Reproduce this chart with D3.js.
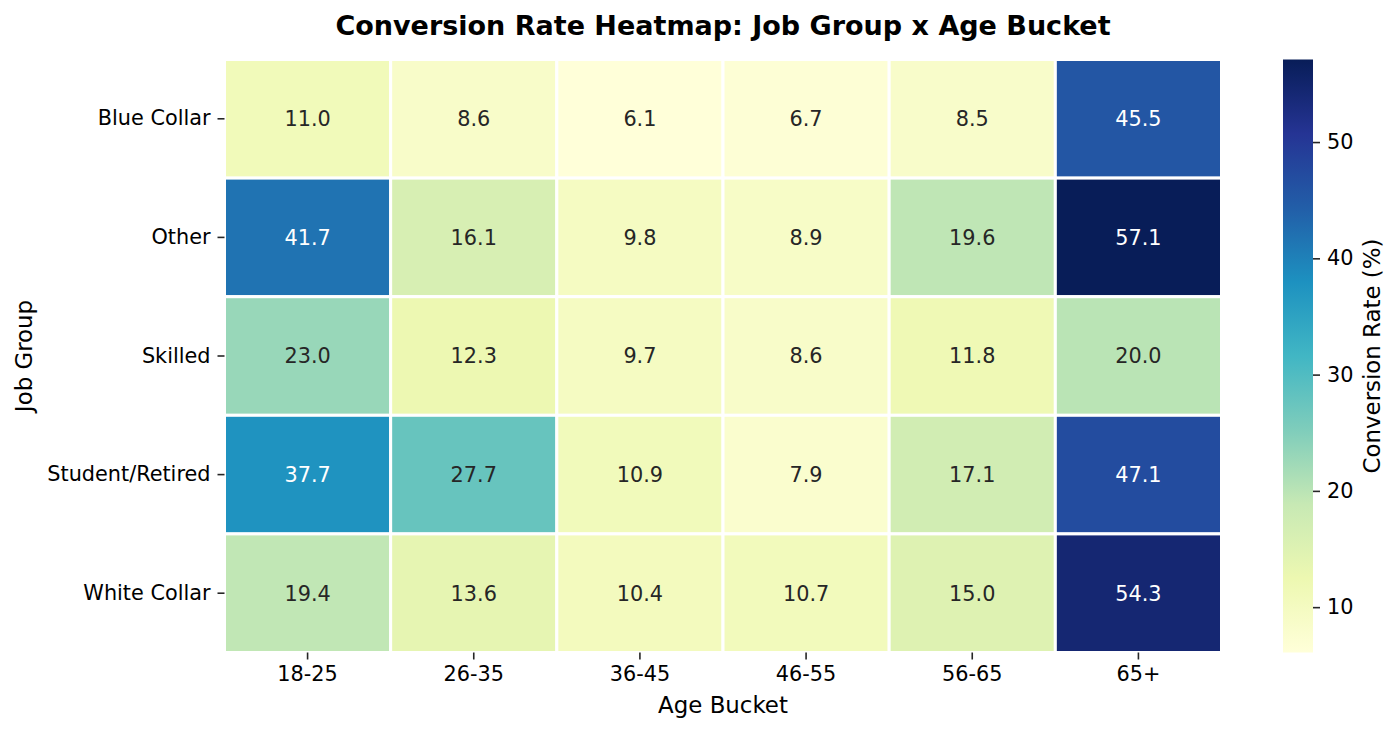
<!DOCTYPE html>
<html>
<head>
<meta charset="utf-8">
<script src="https://cdn.jsdelivr.net/npm/d3@7"></script>
<style>
  body { margin: 0; background: white; }
  svg { display: block; font-family: "DejaVu Sans", sans-serif; }
</style>
</head>
<body>
<svg></svg>
<script>
var jobGroups = ["Blue Collar", "Other", "Skilled", "Student/Retired", "White Collar"];
var ageBuckets = ["18-25", "26-35", "36-45", "46-55", "56-65", "65+"];

// one row per job group, one value per age bucket
var blueCollar    = [11.0,  8.6,  6.1,  6.7,  8.5, 45.5];
var other         = [41.7, 16.1,  9.8,  8.9, 19.6, 57.1];
var skilled       = [23.0, 12.3,  9.7,  8.6, 11.8, 20.0];
var studentRetired= [37.7, 27.7, 10.9,  7.9, 17.1, 47.1];
var whiteCollar   = [19.4, 13.6, 10.4, 10.7, 15.0, 54.3];
var rates = [blueCollar, other, skilled, studentRetired, whiteCollar];

var colorbarTicks = [10, 20, 30, 40, 50];

// YlGnBu (colorbrewer 9)
var ylGnBu = ["#ffffd9","#edf8b1","#c7e9b4","#7fcdbb","#41b6c4","#1d91c0","#225ea8","#253494","#081d58"];

var svgWidth = 1400, svgHeight = 734;
var plotLeft = 224.5, plotRight = 1221.5, plotTop = 59.5, plotBottom = 652.5;

var svg = d3.select("svg")
    .attr("width", svgWidth)
    .attr("height", svgHeight);

var cells = [];
rates.forEach(function(row, i) {
  row.forEach(function(v, j) {
    cells.push({job: jobGroups[i], age: ageBuckets[j], value: v});
  });
});

var vmin = d3.min(cells, d => d.value), vmax = d3.max(cells, d => d.value);

var color = d3.scaleLinear()
    .domain(ylGnBu.map((c, i) => vmin + (vmax - vmin) * i / (ylGnBu.length - 1)))
    .range(ylGnBu)
    .interpolate(d3.interpolateRgb)
    .clamp(true);

var xScale = d3.scaleBand().domain(ageBuckets).range([plotLeft, plotRight]);
var yScale = d3.scaleBand().domain(jobGroups).range([plotTop, plotBottom]);

function luminance(c) {
  var rgb = d3.rgb(c);
  var ch = [rgb.r, rgb.g, rgb.b].map(function(x) {
    x = x / 255;
    return x <= 0.03928 ? x / 12.92 : Math.pow((x + 0.055) / 1.055, 2.4);
  });
  return 0.2126 * ch[0] + 0.7152 * ch[1] + 0.0722 * ch[2];
}

// cells
svg.append("g").selectAll("rect")
  .data(cells)
  .join("rect")
    .attr("x", d => xScale(d.age))
    .attr("y", d => yScale(d.job))
    .attr("width", xScale.bandwidth())
    .attr("height", yScale.bandwidth())
    .attr("fill", d => color(d.value))
    .attr("stroke", "white")
    .attr("stroke-width", 3);

// annotations
svg.append("g").selectAll("text")
  .data(cells)
  .join("text")
    .attr("x", d => xScale(d.age) + xScale.bandwidth() / 2)
    .attr("y", d => yScale(d.job) + yScale.bandwidth() / 2)
    .attr("dy", "0.36em")
    .attr("text-anchor", "middle")
    .attr("font-size", "20.8px")
    .attr("fill", d => luminance(color(d.value)) > 0.408 ? "#262626" : "white")
    .text(d => d.value.toFixed(1));

// axes
var xAxis = svg.append("g")
    .attr("transform", "translate(0," + plotBottom + ")")
    .call(d3.axisBottom(xScale).tickSize(7).tickPadding(7));
var yAxis = svg.append("g")
    .attr("transform", "translate(" + plotLeft + ",0)")
    .call(d3.axisLeft(yScale).tickSize(7).tickPadding(7));

[xAxis, yAxis].forEach(function(a) {
  a.select(".domain").remove();
  a.selectAll(".tick line").attr("stroke", "#262626").attr("stroke-width", 1.6);
  a.selectAll(".tick text")
    .attr("font-size", "20.8px")
    .attr("font-family", "DejaVu Sans")
    .attr("fill", "#000");
});

// axis labels
svg.append("text")
    .attr("x", (plotLeft + plotRight) / 2)
    .attr("y", 713)
    .attr("text-anchor", "middle")
    .attr("font-size", "22.9px")
    .text("Age Bucket");

svg.append("text")
    .attr("transform", "translate(32," + (plotTop + plotBottom) / 2 + ") rotate(-90)")
    .attr("text-anchor", "middle")
    .attr("font-size", "22.9px")
    .text("Job Group");

// title
svg.append("text")
    .attr("x", (plotLeft + plotRight) / 2)
    .attr("y", 35)
    .attr("text-anchor", "middle")
    .attr("font-size", "27px")
    .attr("font-weight", "bold")
    .text("Conversion Rate Heatmap: Job Group x Age Bucket");

// colorbar
var cbX = 1283, cbW = 30;
var cbScale = d3.scaleLinear().domain([vmin, vmax]).range([plotBottom, plotTop]);

var grad = svg.append("defs").append("linearGradient")
    .attr("id", "cbgrad")
    .attr("x1", 0).attr("y1", 1).attr("x2", 0).attr("y2", 0);
grad.selectAll("stop")
  .data(ylGnBu)
  .join("stop")
    .attr("offset", (d, i) => i / (ylGnBu.length - 1))
    .attr("stop-color", d => d);

svg.append("rect")
    .attr("x", cbX)
    .attr("y", plotTop)
    .attr("width", cbW)
    .attr("height", plotBottom - plotTop)
    .attr("fill", "url(#cbgrad)");

var cbAxis = svg.append("g")
    .attr("transform", "translate(" + (cbX + cbW) + ",0)")
    .call(d3.axisRight(cbScale).tickValues(colorbarTicks).tickSize(7).tickPadding(7));
cbAxis.select(".domain").remove();
cbAxis.selectAll(".tick line").attr("stroke", "#262626").attr("stroke-width", 1.6);
cbAxis.selectAll(".tick text")
    .attr("font-size", "20.8px")
    .attr("font-family", "DejaVu Sans")
    .attr("fill", "#000");

svg.append("text")
    .attr("transform", "translate(1380," + (plotTop + plotBottom) / 2 + ") rotate(-90)")
    .attr("text-anchor", "middle")
    .attr("font-size", "22.9px")
    .text("Conversion Rate (%)");
</script>
</body>
</html>
